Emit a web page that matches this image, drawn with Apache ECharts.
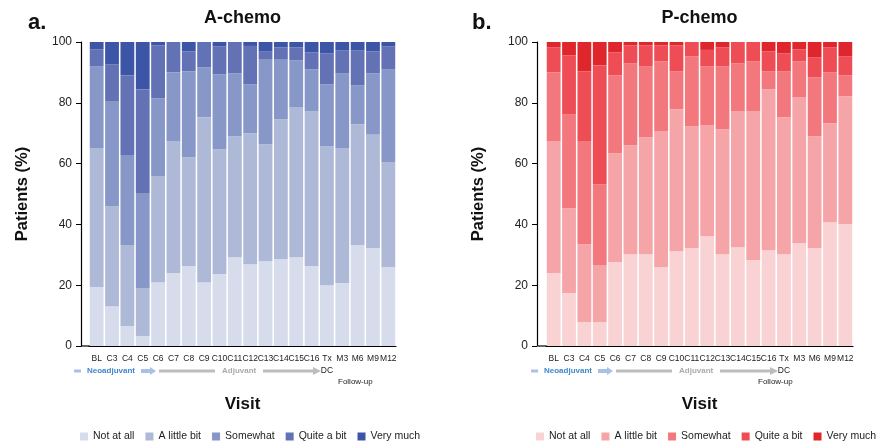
<!DOCTYPE html>
<html lang="en">
<head>
<meta charset="UTF-8">
<title>A-chemo / P-chemo</title>
<script src="https://cdn.jsdelivr.net/npm/echarts@6/dist/echarts.min.js"></script>
<style>
    html, body { margin: 0; background: #fff; }
    #main { width: 876px; height: 446px; }
</style>
</head>
<body>
<div id="main"></div>
<script>
    // visits on the x axis
    let visits = ['BL', 'C3', 'C4', 'C5', 'C6', 'C7', 'C8', 'C9', 'C10', 'C11', 'C12', 'C13', 'C14', 'C15', 'C16', 'Tx', 'M3', 'M6', 'M9', 'M12'];
    let levels = ['Not at all', 'A little bit', 'Somewhat', 'Quite a bit', 'Very much'];
    let yTicks = [0, 20, 40, 60, 80, 100];

    // A-chemo, % of patients per answer
    let aNotAtAll = [19.4, 13.1, 6.6, 3.3, 21.0, 24.0, 26.3, 21.0, 23.7, 29.2, 26.9, 27.9, 28.6, 29.2, 26.3, 20.0, 20.7, 33.2, 32.2, 26.0];
    let aLittleBit = [45.7, 32.9, 26.6, 15.8, 34.9, 43.4, 35.8, 54.2, 41.0, 39.8, 43.1, 38.5, 46.0, 49.3, 50.9, 45.7, 44.4, 39.7, 37.5, 34.5];
    let aSomewhat = [26.9, 34.6, 29.6, 31.2, 25.6, 22.6, 28.3, 16.5, 24.7, 20.7, 16.1, 28.0, 19.8, 15.5, 13.8, 20.4, 24.6, 12.9, 20.0, 30.5];
    let aQuiteABit = [5.6, 12.1, 26.2, 34.1, 17.4, 10.0, 6.5, 8.3, 9.2, 10.3, 12.6, 2.6, 3.8, 4.2, 5.6, 10.2, 7.6, 11.5, 7.2, 7.5];
    let aVeryMuch = [2.4, 7.3, 11.0, 15.6, 1.1, 0, 3.1, 0, 1.4, 0, 1.3, 3.0, 1.8, 1.8, 3.4, 3.7, 2.7, 2.7, 3.1, 1.5];

    // P-chemo
    let pNotAtAll = [24.0, 17.4, 7.9, 7.9, 27.6, 30.2, 30.2, 26.0, 31.2, 32.2, 36.1, 30.2, 32.5, 28.3, 31.5, 30.2, 33.8, 32.2, 40.7, 40.1];
    let pLittleBit = [43.4, 27.9, 25.6, 18.7, 35.8, 35.8, 38.5, 44.6, 46.7, 40.1, 36.5, 41.1, 44.7, 48.9, 52.9, 45.0, 48.0, 36.8, 32.6, 42.0];
    let pSomewhat = [22.6, 30.9, 33.9, 26.6, 25.6, 27.0, 23.3, 23.0, 12.5, 23.0, 19.4, 20.7, 15.8, 16.4, 6.0, 15.2, 11.8, 19.4, 16.7, 6.9];
    let pQuiteABit = [8.2, 19.4, 23.0, 39.1, 7.6, 5.9, 6.9, 5.3, 8.5, 4.7, 5.4, 6.2, 7.0, 6.4, 6.5, 5.9, 4.0, 6.6, 8.2, 6.3];
    let pVeryMuch = [1.8, 4.4, 9.6, 7.7, 3.4, 1.1, 1.1, 1.1, 1.1, 0, 2.6, 1.8, 0, 0, 3.1, 3.7, 2.4, 5.0, 1.8, 4.7];

    let blues = ['#d6dcec', '#aeb9d7', '#8797c7', '#6272b5', '#3c55a6'];
    let reds = ['#f9d2d4', '#f5a4a8', '#f2787e', '#ee4d55', '#e0262d'];

    let font = '"Liberation Sans", Arial, sans-serif';
    let aData = [aNotAtAll, aLittleBit, aSomewhat, aQuiteABit, aVeryMuch];
    let pData = [pNotAtAll, pLittleBit, pSomewhat, pQuiteABit, pVeryMuch];

    function makeSeries(data, colors, idx) {
        return data.map(function (values, i) {
            return {
                name: levels[i],
                type: 'bar',
                stack: 'g' + idx,
                xAxisIndex: idx,
                yAxisIndex: idx,
                barCategoryGap: '10%',
                itemStyle: {color: colors[i]},
                emphasis: {disabled: true},
                data: values
            };
        });
    }

    function xAxisOf(idx) {
        return {
            type: 'category',
            gridIndex: idx,
            data: visits,
            axisLine: {lineStyle: {color: '#000', width: 1.2}},
            axisTick: {alignWithLabel: true, length: 5, lineStyle: {color: '#444'}},
            axisLabel: {interval: 0, fontSize: 8.5, color: '#222', margin: 8, fontFamily: font},
            name: 'Visit',
            nameLocation: 'middle',
            nameGap: 50,
            nameTextStyle: {fontSize: 17, fontWeight: 'bold', color: '#111', fontFamily: font}
        };
    }

    function yAxisOf(idx, off) {
        return {
            type: 'value',
            gridIndex: idx,
            min: yTicks[0],
            max: yTicks[yTicks.length - 1],
            interval: 20,
            offset: off,
            splitLine: {show: false},
            axisLine: {show: true, lineStyle: {color: '#000', width: 1.2}},
            axisTick: {show: true, length: 5, lineStyle: {color: '#000'}},
            axisLabel: {fontSize: 12, color: '#222', margin: 9, fontFamily: font},
            name: 'Patients (%)',
            nameLocation: 'middle',
            nameGap: 50,
            nameTextStyle: {fontSize: 16.5, fontWeight: 'bold', color: '#111', fontFamily: font}
        };
    }

    // arrow shape for the treatment phases
    function arrow(x0, x1, y, h, headW, headH, color) {
        return {
            type: 'polygon',
            shape: {points: [[x0, y - h / 2], [x1 - headW, y - h / 2], [x1 - headW, y - headH / 2], [x1, y],
                [x1 - headW, y + headH / 2], [x1 - headW, y + h / 2], [x0, y + h / 2]]},
            style: {fill: color}
        };
    }

    function phaseMarks(dx, followX) {
        let y = 371;
        return [
            {type: 'rect', shape: {x: 74 + dx, y: y - 1.5, width: 7, height: 3}, style: {fill: '#a9c1e5'}},
            {type: 'text', x: 87 + dx, y: y, style: {text: 'Neoadjuvant', font: 'bold 8px ' + font, fill: '#3f86cc', verticalAlign: 'middle'}},
            arrow(141 + dx, 156 + dx, y, 4, 6, 8, '#a9c1e5'),
            {type: 'rect', shape: {x: 159 + dx, y: y - 1.5, width: 56, height: 3}, style: {fill: '#bdbdbd'}},
            {type: 'text', x: 222 + dx, y: y, style: {text: 'Adjuvant', font: 'bold 8px ' + font, fill: '#aaaaaa', verticalAlign: 'middle'}},
            arrow(263 + dx, 321 + dx, y, 3, 8, 8, '#bdbdbd'),
            {type: 'text', x: 327 + dx, y: y, style: {text: 'DC', font: '8.5px ' + font, fill: '#222', align: 'center', verticalAlign: 'middle'}},
            {type: 'text', x: followX, y: 382, style: {text: 'Follow-up', font: '8px ' + font, fill: '#222', verticalAlign: 'middle'}},
            // axis corner piece left of the first bar
            {type: 'line', shape: {x1: 81 + dx, y1: 346, x2: 90 + dx, y2: 346}, style: {stroke: '#000', lineWidth: 1.2}}
        ];
    }

    let myChart = echarts.init(document.getElementById('main'), null, {renderer: 'canvas'});
    let option = {
        animation: false,
        backgroundColor: '#fff',
        textStyle: {fontFamily: font},
        grid: [
            {left: 89, top: 42, width: 307, height: 304},
            {left: 546, top: 42, width: 307, height: 304}
        ],
        xAxis: [xAxisOf(0), xAxisOf(1)],
        yAxis: [yAxisOf(0, 8), yAxisOf(1, 9)],
        legend: [
            {
                left: 80, top: 431, width: 420, padding: 0, itemWidth: 8, itemHeight: 8, itemGap: 11, selectedMode: false,
                icon: 'rect', textStyle: {fontSize: 10.5, color: '#222', fontFamily: font},
                data: levels.map(function (n, i) { return {name: n, itemStyle: {color: blues[i]}}; })
            },
            {
                left: 536, top: 431, width: 420, padding: 0, itemWidth: 8, itemHeight: 8, itemGap: 11, selectedMode: false,
                icon: 'rect', textStyle: {fontSize: 10.5, color: '#222', fontFamily: font},
                data: levels.map(function (n, i) { return {name: n, itemStyle: {color: reds[i]}}; })
            }
        ],
        graphic: [
            {type: 'text', x: 28, y: 23, style: {text: 'a.', font: 'bold 22px ' + font, fill: '#111', verticalAlign: 'middle'}},
            {type: 'text', x: 472, y: 23, style: {text: 'b.', font: 'bold 22px ' + font, fill: '#111', verticalAlign: 'middle'}},
            {type: 'text', x: 242.5, y: 18.5, style: {text: 'A-chemo', font: 'bold 18px ' + font, fill: '#111', align: 'center', verticalAlign: 'middle'}},
            {type: 'text', x: 699.5, y: 18.5, style: {text: 'P-chemo', font: 'bold 18px ' + font, fill: '#111', align: 'center', verticalAlign: 'middle'}}
        ].concat(phaseMarks(0, 338)).concat(phaseMarks(457, 758)),
        series: makeSeries(aData, blues, 0).concat(makeSeries(pData, reds, 1))
    };
    myChart.setOption(option);
</script>
</body>
</html>
